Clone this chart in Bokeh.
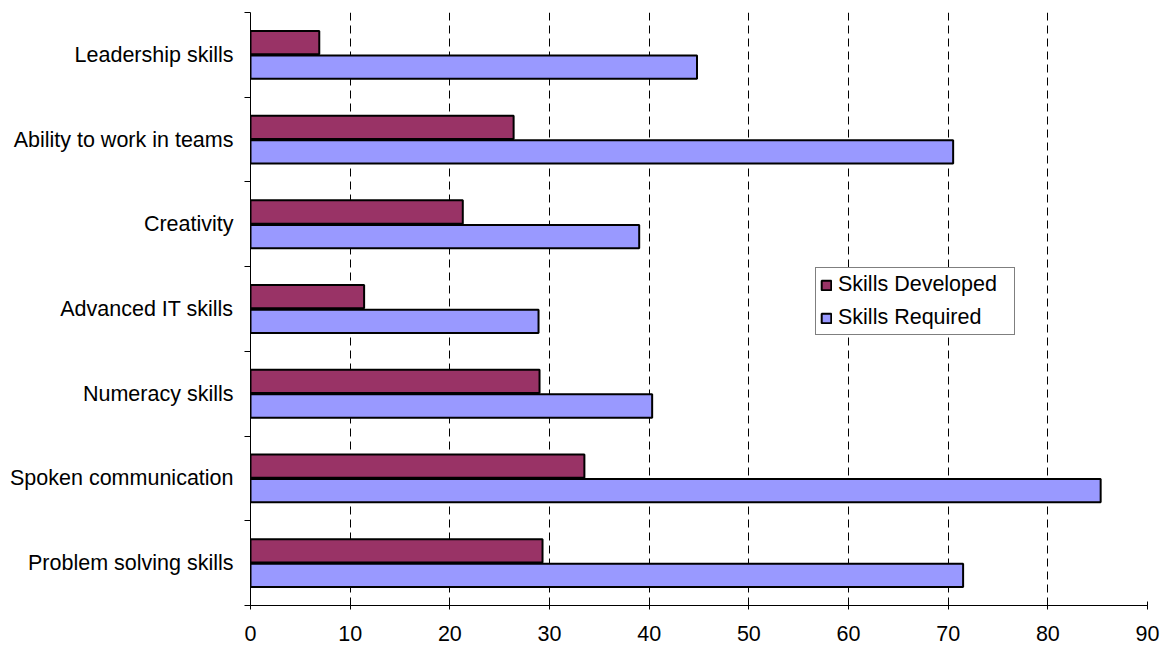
from bokeh.plotting import figure
from bokeh.models import FixedTicker, ColumnDataSource, Range1d, Legend, LegendItem
from bokeh.embed import file_html
from bokeh.resources import INLINE

categories = ["Problem solving skills", "Spoken communication", "Numeracy skills",
              "Advanced IT skills", "Creativity", "Ability to work in teams", "Leadership skills"]
developed = [29.3, 33.5, 29.0, 11.4, 21.3, 26.4, 6.9]
required = [71.5, 85.3, 40.3, 28.9, 39.0, 70.5, 44.8]
x_ticks = [0, 10, 20, 30, 40, 50, 60, 70, 80, 90]

n = len(categories)
centers = [i + 0.5 for i in range(n)]
off = 0.145
bh = 0.275
FS = "21.5px"

p = figure(width=1167, height=648, output_backend="svg", toolbar_location=None,
           x_range=Range1d(0, 90), y_range=Range1d(0, n),
           min_border_left=250, min_border_right=20, min_border_top=12, min_border_bottom=43)
p.outline_line_color = None
p.background_fill_color = "white"
p.border_fill_color = "white"

src_d = ColumnDataSource(dict(y=[c + off for c in centers], x=developed))
src_r = ColumnDataSource(dict(y=[c - off for c in centers], x=required))
rd = p.hbar(y="y", right="x", left=0, height=bh, source=src_d,
            fill_color="#993366", line_color="black", line_width=2)
rr = p.hbar(y="y", right="x", left=0, height=bh, source=src_r,
            fill_color="#9999FF", line_color="black", line_width=2)

# axes
p.xaxis.ticker = FixedTicker(ticks=x_ticks)
p.xaxis.major_tick_in = 4
p.xaxis.major_tick_out = 4
p.xaxis.minor_tick_line_color = None
p.xaxis.axis_line_color = "black"
p.xaxis.major_tick_line_color = "black"
p.xaxis.major_label_text_font = "Liberation Sans"
p.xaxis.major_label_text_font_size = FS
p.xaxis.major_label_text_color = "black"
p.xaxis.major_label_standoff = 16

p.yaxis.ticker = FixedTicker(ticks=centers, minor_ticks=list(range(n + 1)))
p.yaxis.major_label_overrides = {c: lab for c, lab in zip(centers, categories)}
p.yaxis.major_tick_in = 0
p.yaxis.major_tick_out = 0
p.yaxis.minor_tick_in = 0
p.yaxis.minor_tick_out = 6
p.yaxis.minor_tick_line_color = "black"
p.yaxis.axis_line_color = "black"
p.yaxis.major_label_text_font = "Liberation Sans"
p.yaxis.major_label_text_font_size = FS
p.yaxis.major_label_text_color = "black"
p.yaxis.major_label_standoff = 11

p.ygrid.grid_line_color = None
p.xgrid.ticker = FixedTicker(ticks=x_ticks[1:])
p.xgrid.grid_line_color = "black"
p.xgrid.grid_line_dash = "8 5"
p.xgrid.grid_line_width = 1

legend = Legend(items=[LegendItem(label="Skills Developed", renderers=[rd]),
                       LegendItem(label="Skills Required", renderers=[rr])],
                location=(565, 270))
legend.label_text_font = "Liberation Sans"
legend.label_text_font_size = FS
legend.label_text_color = "black"
legend.glyph_width = 12
legend.glyph_height = 12
legend.label_standoff = 6
legend.label_width = 172
legend.spacing = 8
legend.padding = 4
legend.margin = 0
legend.border_line_color = "black"
legend.border_line_width = 1
legend.background_fill_alpha = 1
p.add_layout(legend, "center")

open("out.html", "w").write(file_html(p, INLINE))
